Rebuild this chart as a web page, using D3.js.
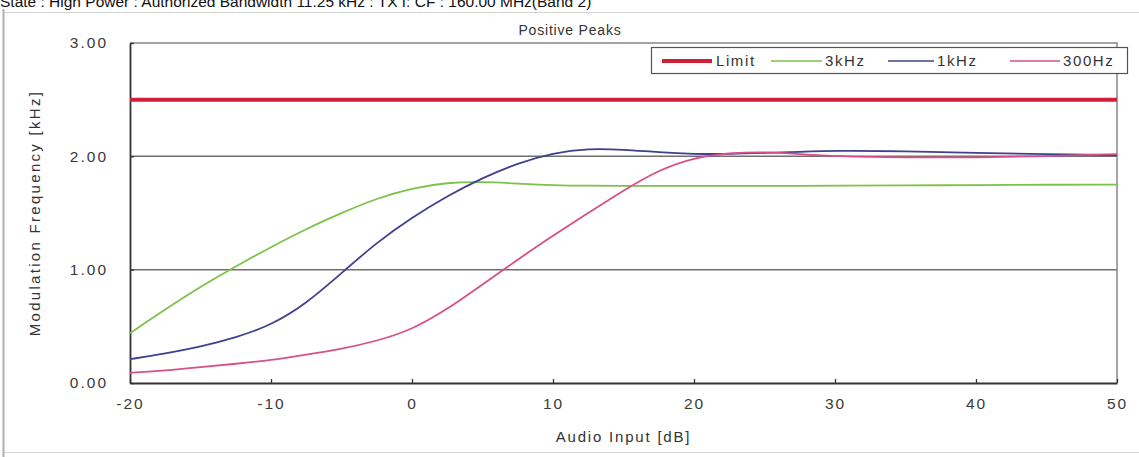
<!DOCTYPE html>
<html>
<head>
<meta charset="utf-8">
<script src="https://cdn.jsdelivr.net/npm/d3@7"></script>
<style>
  body { margin: 0; background: #fff; }
  svg { display: block; font-family: "Liberation Sans", Arial, sans-serif; }
</style>
</head>
<body>
<div id="chart"></div>
<script>
// Audio input levels (dB) where the curves were read
const audioInput = [-20, -17.5, -15, -12.5, -10, -7.5, -5, -2.5, 0, 2.5, 5, 7.5, 10, 12.5, 15, 17.5, 20, 22.5, 25, 27.5, 30, 35, 40, 45, 50];

// Modulation frequency in kHz, one value per audio input level
const mod3kHz  = [0.44, 0.65, 0.85, 1.03, 1.20, 1.36, 1.50, 1.63, 1.72, 1.77, 1.775, 1.76, 1.745, 1.74, 1.74, 1.74, 1.74, 1.74, 1.74, 1.74, 1.74, 1.745, 1.745, 1.75, 1.75];
const mod1kHz  = [0.21, 0.26, 0.32, 0.40, 0.51, 0.70, 0.97, 1.24, 1.46, 1.65, 1.81, 1.94, 2.03, 2.07, 2.06, 2.035, 2.02, 2.02, 2.03, 2.04, 2.05, 2.045, 2.03, 2.02, 2.01];
const mod300Hz = [0.09, 0.11, 0.14, 0.17, 0.20, 0.25, 0.30, 0.37, 0.47, 0.65, 0.87, 1.09, 1.30, 1.50, 1.70, 1.88, 1.99, 2.03, 2.04, 2.02, 2.00, 1.99, 1.99, 2.00, 2.02];
const limitValue = 2.5;

const xTicks = [-20, -10, 0, 10, 20, 30, 40, 50];
const yTicks = [0, 1, 2, 3];
const legendNames = ["Limit", "3kHz", "1kHz", "300Hz"];

const width = 1139, height = 457;
const colors = { limit: "#cf2037", k3: "#7cc24a", k1: "#40408e", h300: "#d65089" };

const svg = d3.select("#chart").append("svg")
    .attr("width", width)
    .attr("height", height);

// Outer frame (partly off the picture)
svg.append("rect")
    .attr("x", 3.5).attr("y", 12.5)
    .attr("width", 1140).attr("height", 440)
    .attr("fill", "none")
    .attr("stroke", "#d4d4d4");
svg.append("line")
    .attr("x1", 3.5).attr("x2", 3.5).attr("y1", 9).attr("y2", 457)
    .attr("stroke", "#b0b0b0").attr("stroke-width", 2);

// Heading, cut off by the top edge as in the source picture
svg.append("text")
    .attr("x", 0).attr("y", 7)
    .attr("font-size", 15.5)
    .attr("fill", "#111")
    .text("State : High Power : Authorized Bandwidth 11.25 kHz : TX f: CF : 160.00 MHz(Band 2)");

const x = d3.scaleLinear().domain([-20, 50]).range([130, 1117]);
const y = d3.scaleLinear().domain([0, 3]).range([383, 43]);

// Chart title
svg.append("text")
    .attr("x", 570).attr("y", 35)
    .attr("text-anchor", "middle")
    .attr("font-size", 14)
    .attr("letter-spacing", 0.8)
    .attr("fill", "#333")
    .text("Positive Peaks");

// Grid lines at 1 and 2
svg.append("g").selectAll("line")
    .data([1, 2])
    .enter().append("line")
    .attr("x1", x(-20)).attr("x2", x(50))
    .attr("y1", d => y(d)).attr("y2", d => y(d))
    .attr("stroke", "#6e6e6e")
    .attr("stroke-width", 1.5);

// Top and right frame
svg.append("path")
    .attr("d", `M${x(-20)},${y(3)}H${x(50)}V${y(0)}`)
    .attr("fill", "none")
    .attr("stroke", "#888")
    .attr("stroke-width", 1.5);

// Axes
const xAxis = svg.append("g")
    .attr("transform", `translate(0,${y(0)})`)
    .call(d3.axisBottom(x).tickValues(xTicks).tickFormat(d => String(d)).tickSize(-4).tickSizeOuter(0).tickPadding(15));
const yAxis = svg.append("g")
    .attr("transform", `translate(${x(-20)},0)`)
    .call(d3.axisLeft(y).tickValues(yTicks).tickFormat(d3.format(".2f")).tickSize(-4).tickSizeOuter(0).tickPadding(22));

[xAxis, yAxis].forEach(function(a) {
    a.select(".domain").attr("stroke", "#333").attr("stroke-width", 1.8);
    a.selectAll(".tick line").attr("stroke", "#333").attr("stroke-width", 1.3);
    a.selectAll(".tick text")
        .attr("font-size", 15.5)
        .attr("letter-spacing", 2)
        .attr("font-family", "Liberation Sans, Arial, sans-serif")
        .attr("fill", "#3a3a3a");
});

// Axis titles
svg.append("text")
    .attr("x", (x(-20) + x(50)) / 2).attr("y", 442)
    .attr("text-anchor", "middle")
    .attr("font-size", 15)
    .attr("letter-spacing", 1.8)
    .attr("fill", "#333")
    .text("Audio Input [dB]");
svg.append("text")
    .attr("transform", `translate(40,${(y(0) + y(3)) / 2}) rotate(-90)`)
    .attr("text-anchor", "middle")
    .attr("font-size", 15)
    .attr("letter-spacing", 2.3)
    .attr("fill", "#333")
    .text("Modulation Frequency [kHz]");

// Limit line
svg.append("line")
    .attr("x1", x(-20)).attr("x2", x(50))
    .attr("y1", y(limitValue)).attr("y2", y(limitValue))
    .attr("stroke", colors.limit)
    .attr("stroke-width", 4);

// Curves
const series = [
    { values: mod3kHz, color: colors.k3 },
    { values: mod1kHz, color: colors.k1 },
    { values: mod300Hz, color: colors.h300 }
];
const line = d3.line()
    .x((d, i) => x(audioInput[i]))
    .y(d => y(d))
    .curve(d3.curveBasis);

svg.append("g").selectAll("path")
    .data(series)
    .enter().append("path")
    .attr("d", d => line(d.values))
    .attr("fill", "none")
    .attr("stroke", d => d.color)
    .attr("stroke-width", 1.8);

// Legend
const legend = svg.append("g");
legend.append("rect")
    .attr("x", 651.5).attr("y", 47.5)
    .attr("width", 476).attr("height", 26)
    .attr("fill", "#fff")
    .attr("stroke", "#555")
    .attr("stroke-width", 1.2);

const legendItems = [
    { name: legendNames[0], color: colors.limit, w: 4, x0: 662, x1: 712, tx: 716 },
    { name: legendNames[1], color: colors.k3, w: 1.5, x0: 771, x1: 822, tx: 825 },
    { name: legendNames[2], color: colors.k1, w: 1.5, x0: 888, x1: 934, tx: 937 },
    { name: legendNames[3], color: colors.h300, w: 1.5, x0: 1010, x1: 1060, tx: 1063 }
];
const li = legend.selectAll("g.item")
    .data(legendItems)
    .enter().append("g")
    .classed("item", true);
li.append("line")
    .attr("x1", d => d.x0).attr("x2", d => d.x1)
    .attr("y1", 61).attr("y2", 61)
    .attr("stroke", d => d.color)
    .attr("stroke-width", d => d.w);
li.append("text")
    .attr("x", d => d.tx).attr("y", 66)
    .attr("font-size", 15)
    .attr("letter-spacing", 1.6)
    .attr("fill", "#333")
    .text(d => d.name);
</script>
</body>
</html>
